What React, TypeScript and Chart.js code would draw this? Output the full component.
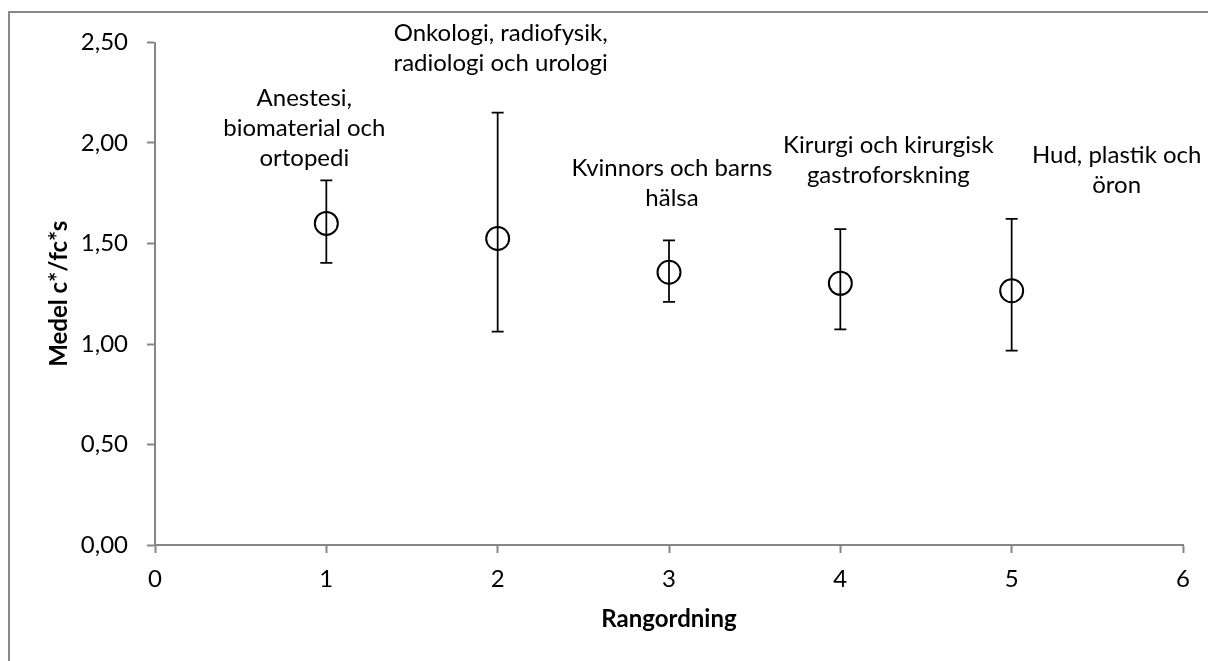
import React, { useEffect, useRef } from "react";
import { Chart, registerables } from "chart.js";

Chart.register(...registerables);

// ---- data ----
const rankValues = [1, 2, 3, 4, 5];
const meanValues = [1.6, 1.525, 1.357, 1.302, 1.265];
const upperValues = [1.814, 2.151, 1.516, 1.571, 1.623];
const lowerValues = [1.403, 1.061, 1.209, 1.073, 0.967];
const categoryLabels = [
  ["Anestesi,", "biomaterial och", "ortopedi"],
  ["Onkologi, radiofysik,", "radiologi och urologi"],
  ["Kvinnors och barns", "hälsa"],
  ["Kirurgi och kirurgisk", "gastroforskning"],
  ["Hud, plastik och", "öron"],
];
const xAxisTitle = "Rangordning";
const yAxisTitle = "Medel c*/fc*s";

// ---- label placement (style, px offsets from the marker: dx, baseline of last line dy) ----
const labelOffsets = [
  [-22, -57],
  [3, -167],
  [3, -66],
  [48, -100],
  [105, -98],
];

const FONT = "Lato, 'Open Sans', sans-serif";
const AXIS_GRAY = "#868686";

const customPlugin = {
  id: "customDraw",
  beforeDraw(chart: any) {
    const ctx = chart.ctx;
    ctx.save();
    ctx.fillStyle = "#ffffff";
    ctx.fillRect(0, 0, chart.width, chart.height);
    ctx.strokeStyle = "#898989";
    ctx.lineWidth = 2;
    ctx.beginPath();
    ctx.moveTo(9, chart.height + 2);
    ctx.lineTo(9, 12);
    ctx.lineTo(chart.width + 2, 12);
    ctx.stroke();
    ctx.restore();
  },
  afterDatasetsDraw(chart: any) {
    const ctx = chart.ctx;
    const xs = chart.scales.x;
    const ys = chart.scales.y;
    ctx.save();
    ctx.strokeStyle = "#000";
    ctx.lineWidth = 1.75;
    for (let i = 0; i < rankValues.length; i++) {
      const px = xs.getPixelForValue(rankValues[i]);
      const pt = ys.getPixelForValue(upperValues[i]);
      const pb = ys.getPixelForValue(lowerValues[i]);
      ctx.beginPath();
      ctx.moveTo(px, pt);
      ctx.lineTo(px, pb);
      ctx.moveTo(px - 6, pt);
      ctx.lineTo(px + 6, pt);
      ctx.moveTo(px - 6, pb);
      ctx.lineTo(px + 6, pb);
      ctx.stroke();
    }
    ctx.fillStyle = "#000";
    ctx.font = `24px ${FONT}`;
    ctx.textAlign = "center";
    ctx.textBaseline = "alphabetic";
    const lh = 30;
    for (let i = 0; i < rankValues.length; i++) {
      const px = xs.getPixelForValue(rankValues[i]);
      const py = ys.getPixelForValue(meanValues[i]);
      const lines = categoryLabels[i];
      const [dx, dy] = labelOffsets[i];
      const lastY = py + dy;
      for (let j = 0; j < lines.length; j++) {
        const yy = lastY - (lines.length - 1 - j) * lh;
        ctx.fillText(lines[j], px + dx, yy);
      }
    }
    ctx.restore();
  },
};

export default function App() {
  const canvasRef = useRef<HTMLCanvasElement | null>(null);

  useEffect(() => {
    document.body.style.margin = "0";
    document.body.style.overflow = "hidden";
    const canvas = canvasRef.current;
    if (!canvas) return;
    const chart = new Chart(canvas, {
      type: "scatter",
      data: {
        datasets: [
          {
            data: rankValues.map((x, i) => ({ x, y: meanValues[i] })),
            pointStyle: "circle",
            pointRadius: 11.5,
            pointHoverRadius: 11.5,
            pointBorderWidth: 2,
            borderColor: "#000",
            backgroundColor: "rgba(0,0,0,0)",
            showLine: false,
          },
        ],
      },
      options: {
        animation: false,
        responsive: false,
        devicePixelRatio: 1,
        layout: { padding: { top: 42.5, right: 25, left: 0, bottom: 0 } },
        plugins: {
          legend: { display: false },
          tooltip: { enabled: false },
          title: { display: false },
        },
        scales: {
          x: {
            type: "linear",
            min: 0,
            max: 6,
            afterFit: (s: any) => {
              s.height = 116;
            },
            ticks: {
              stepSize: 1,
              color: "#000",
              font: { family: FONT, size: 24 },
              padding: 12,
            },
            grid: {
              drawOnChartArea: false,
              drawTicks: true,
              tickLength: 8,
              tickColor: AXIS_GRAY,
              tickWidth: 2,
            },
            border: { display: true, color: AXIS_GRAY, width: 2 },
            title: {
              display: true,
              text: xAxisTitle,
              color: "#000",
              font: { family: FONT, size: 24, weight: "bold" },
              padding: { top: 0, bottom: 27 },
            },
          },
          y: {
            type: "linear",
            min: 0,
            max: 2.5,
            afterFit: (s: any) => {
              s.width = 155;
            },
            ticks: {
              stepSize: 0.5,
              color: "#000",
              font: { family: FONT, size: 24 },
              padding: 19,
              callback: (v: any) => Number(v).toFixed(2).replace(".", ","),
            },
            grid: {
              drawOnChartArea: false,
              drawTicks: true,
              tickLength: 8,
              tickColor: AXIS_GRAY,
              tickWidth: 2,
            },
            border: { display: true, color: AXIS_GRAY, width: 2 },
            title: {
              display: true,
              text: yAxisTitle,
              color: "#000",
              font: { family: FONT, size: 24, weight: "bold" },
              padding: { top: 45, bottom: 0 },
            },
          },
        },
      },
      plugins: [customPlugin],
    });
    return () => chart.destroy();
  }, []);

  return (
    <div style={{ position: "fixed", left: 0, top: 0, width: 1208, height: 661 }}>
      <canvas ref={canvasRef} width={1208} height={661} style={{ width: 1208, height: 661, display: "block" }} />
    </div>
  );
}
